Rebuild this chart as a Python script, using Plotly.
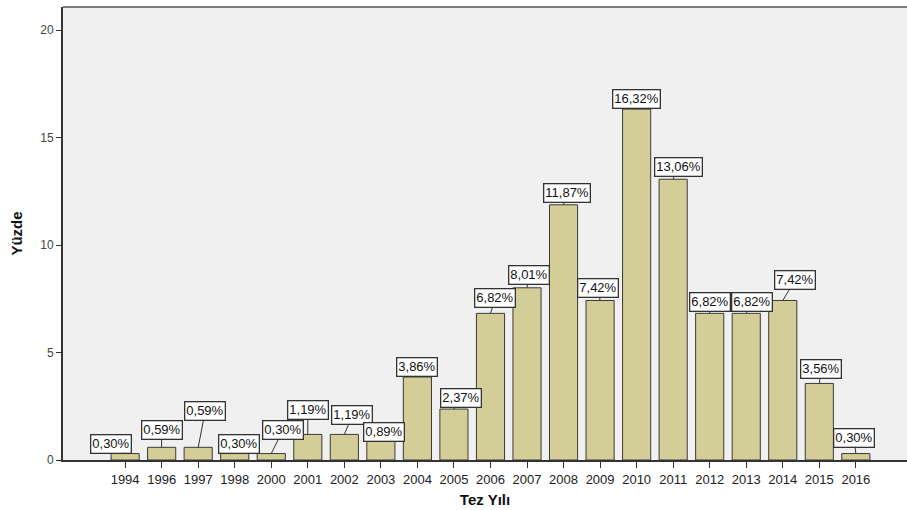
import plotly.graph_objects as go

years = ["1994", "1996", "1997", "1998", "2000", "2001", "2002", "2003", "2004", "2005",
         "2006", "2007", "2008", "2009", "2010", "2011", "2012", "2013", "2014", "2015", "2016"]
percent = [0.30, 0.59, 0.59, 0.30, 0.30, 1.19, 1.19, 0.89, 3.86, 2.37,
           6.82, 8.01, 11.87, 7.42, 16.32, 13.06, 6.82, 6.82, 7.42, 3.56, 0.30]
y_ticks = [0, 5, 10, 15, 20]

# pixel offsets of the label boxes (style only)
label_offsets = [(-14, -10), (0, -17), (7, -36), (4, -10), (12, -24), (0, -24), (8, -19),
                 (3, -9), (0, -10), (7, -11), (5, -15), (2, -13), (3, -12), (-2, -12),
                 (0, -10), (5, -12), (0, -11), (6, -11), (12, -20), (2, -14), (-2, -16)]

fig = go.Figure()
fig.add_trace(go.Bar(
    x=years, y=percent, width=0.77,
    marker=dict(color="#d3ce97", line=dict(color="#3a3a3a", width=1)),
    hoverinfo="skip",
))

for i, (v, (dx, dy)) in enumerate(zip(percent, label_offsets)):
    fig.add_annotation(
        x=i, y=v, xref="x", yref="y",
        text=f"{v:.2f}".replace(".", ",") + "%",
        showarrow=True, arrowhead=0, arrowwidth=1, arrowcolor="#333333",
        ax=dx, ay=dy, standoff=0,
        bgcolor="white", bordercolor="#333333", borderwidth=1.3, borderpad=1,
        font=dict(family="Arial, Liberation Sans, sans-serif", size=13, color="#111111"),
    )

fig.add_shape(type="line", xref="paper", yref="paper", x0=0, x1=1, y0=1, y1=1,
              line=dict(color="#7a7a7a", width=2))

fig.update_layout(
    width=907, height=510,
    margin=dict(l=63, r=0, t=7, b=50),
    paper_bgcolor="white", plot_bgcolor="#f0f0f0",
    showlegend=False,
    font=dict(family="Arial, Liberation Sans, sans-serif", size=12, color="#222222"),
    xaxis=dict(
        type="category", range=[-1.7, 21.4],
        showline=True, linecolor="#333333", linewidth=2,
        ticks="outside", ticklen=6, tickcolor="#333333", tickwidth=1,
        tickfont=dict(size=13, color="#222222"),
        showgrid=False, zeroline=False,
        title=dict(text="<b>Tez Yılı</b>", font=dict(size=15, color="#111111"), standoff=9),
    ),
    yaxis=dict(
        range=[0, 21.07], tickvals=y_ticks,
        showline=True, linecolor="#333333", linewidth=2,
        ticks="outside", ticklen=5, tickcolor="#333333", tickwidth=1,
        tickfont=dict(size=12, color="#444444"),
        showgrid=False, zeroline=False,
        title=dict(text="<b>Yüzde</b>", font=dict(size=15, color="#111111"), standoff=14),
    ),
)

fig.write_html("out.html")
